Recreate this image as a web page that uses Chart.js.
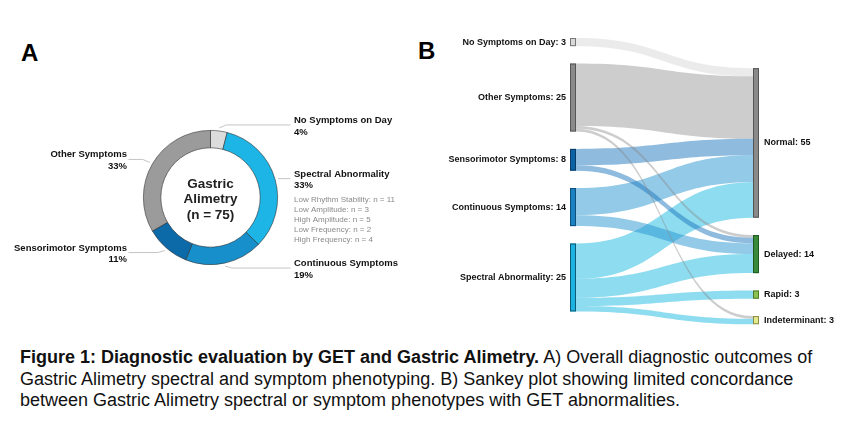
<!DOCTYPE html>
<html>
<head>
<meta charset="utf-8">
<script src="https://cdn.jsdelivr.net/npm/chart.js@4.4.1/dist/chart.umd.min.js"></script>
<style>
  html, body { margin: 0; padding: 0; background: #fff; }
  body { width: 853px; height: 423px; position: relative; overflow: hidden; font-family: "Liberation Sans", Arial, sans-serif; }
  .panel { position: absolute; top: 0; height: 340px; }
  .letter { position: absolute; font-weight: bold; font-size: 24px; color: #000; }
  #caption { position: absolute; left: 20px; top: 347px; width: 833px; font-size: 18px; line-height: 21.5px; color: #111; white-space: nowrap; }
</style>
</head>
<body>
<div class="letter" style="left:21px;top:39px">A</div>
<div class="letter" style="left:418px;top:37px">B</div>
<div class="panel" style="left:0;width:420px"><canvas id="donut"></canvas></div>
<div class="panel" style="left:420px;width:433px"><canvas id="sankey"></canvas></div>
<div id="caption"><b>Figure 1: Diagnostic evaluation by GET and Gastric Alimetry.</b> A) Overall diagnostic outcomes of<br>Gastric Alimetry spectral and symptom phenotyping. B) Sankey plot showing limited concordance<br>between Gastric Alimetry spectral or symptom phenotypes with GET abnormalities.</div>

<script>
// ---- panel A data
const donutLabels = ['No Symptoms on Day', 'Spectral Abnormality', 'Continuous Symptoms', 'Sensorimotor Symptoms', 'Other Symptoms'];
const donutCounts = [3, 25, 14, 8, 25];
const centerLines = ['Gastric', 'Alimetry', '(n = 75)'];
const spectralSubtypes = ['Low Rhythm Stability', 'Low Amplitude', 'High Amplitude', 'Low Frequency', 'High Frequency'];
const spectralSubtypeCounts = [11, 3, 5, 2, 4];

// ---- panel B data
const sourceNodes = ['No Symptoms on Day', 'Other Symptoms', 'Sensorimotor Symptoms', 'Continuous Symptoms', 'Spectral Abnormality'];
const targetNodes = ['Normal', 'Delayed', 'Rapid', 'Indeterminant'];
const flowFrom = [0, 1, 1, 1, 2, 2, 3, 3, 4, 4, 4, 4];
const flowTo   = [0, 0, 1, 3, 0, 1, 0, 1, 0, 1, 2, 3];
const flowValue = [3, 23, 1, 1, 6, 2, 10, 4, 13, 7, 3, 2];

// ---- styles
const DONUT_COLORS = ['#dcdcdc', '#1cb5e5', '#178fcb', '#0c6aa9', '#9b9b9b'];
const SOURCE_COLORS = ['#d9d9d9', '#8a8a8a', '#0b62a4', '#1a82c3', '#1db3e0'];
const SOURCE_BORDERS = ['#777', '#555', '#0a3c66', '#0e4e7a', '#0e5a78'];
const FLOW_COLORS = ['rgba(205,205,205,0.4)', 'rgba(135,135,135,0.42)', 'rgba(30,120,190,0.5)', 'rgba(40,150,210,0.5)', 'rgba(30,185,225,0.5)'];
const TARGET_COLORS = ['#8a8a8a', '#3a8a3c', '#8cc152', '#e3ea8c'];
const TARGET_BORDERS = ['#555', '#1f5a22', '#4d7a2a', '#8a8c45'];
const FONT = '"Liberation Sans", Arial, sans-serif';
const NODE_GAP = 6.4;
const TARGET_START = 11.1;
const NODE_W = 6;

const total = donutCounts.reduce((a, b) => a + b, 0);

const donutLabelPlugin = {
  id: 'donutLabels',
  afterDraw(chart) {
    const ctx = chart.ctx;
    const arcs = chart.getDatasetMeta(0).data;
    ctx.save();
    arcs.forEach((arc, i) => {
      const { x, y, startAngle, endAngle, outerRadius } = arc.getProps(['x', 'y', 'startAngle', 'endAngle', 'outerRadius'], true);
      const mid = (startAngle + endAngle) / 2;
      const px = x + Math.cos(mid) * (outerRadius + 3);
      const py = y + Math.sin(mid) * (outerRadius + 3);
      const right = Math.cos(mid) >= 0;
      const s = Math.sin(mid);
      const ly = py + (s < -0.3 ? -3 : s > 0.3 ? 2 : 0);
      const dir = right ? 1 : -1;
      ctx.strokeStyle = '#c4c4c4';
      ctx.lineWidth = 1;
      ctx.beginPath();
      ctx.moveTo(px, py);
      ctx.lineTo(px + dir * 7, ly);
      ctx.lineTo(x + dir * (right ? 80 : 82), ly);
      ctx.stroke();

      const tx = x + dir * 83.5;
      ctx.textAlign = right ? 'left' : 'right';
      ctx.textBaseline = 'middle';
      ctx.fillStyle = '#111';
      ctx.font = `bold 9.5px ${FONT}`;
      ctx.fillText(donutLabels[i], tx, ly - 4.6);
      ctx.fillText(Math.round(donutCounts[i] / total * 100) + '%', tx, ly + 7);
      if (i === 1) {
        ctx.font = `8px ${FONT}`;
        ctx.fillStyle = '#8a8a8a';
        spectralSubtypes.forEach((name, j) => {
          ctx.fillText(`${name}: n = ${spectralSubtypeCounts[j]}`, tx, ly + 21 + j * 10);
        });
      }
    });
    // centre text
    const c = arcs[0];
    ctx.textAlign = 'center';
    ctx.textBaseline = 'middle';
    ctx.fillStyle = '#222';
    ctx.font = `bold 13.5px ${FONT}`;
    centerLines.forEach((t, j) => ctx.fillText(t, c.x, c.y - 13.5 + j * 15.5));
    ctx.restore();
  }
};

new Chart(document.getElementById('donut'), {
  type: 'doughnut',
  data: {
    labels: donutLabels,
    datasets: [{
      data: donutCounts,
      backgroundColor: DONUT_COLORS,
      borderColor: 'rgba(50,50,50,0.75)',
      borderWidth: 0.8
    }]
  },
  options: {
    responsive: true,
    maintainAspectRatio: false,
    animation: false,
    cutout: '74%',
    layout: { padding: { left: 143, right: 142, top: 130, bottom: 75 } },
    plugins: { legend: { display: false }, tooltip: { enabled: false } }
  },
  plugins: [donutLabelPlugin]
});

function stackNodes(values, start) {
  let pos = start;
  return values.map((v) => { const y0 = pos; pos += v + NODE_GAP; return y0; });
}

const sourceTotals = sourceNodes.map((_, i) => flowValue.reduce((s, v, k) => s + (flowFrom[k] === i ? v : 0), 0));
const targetTotals = targetNodes.map((_, i) => flowValue.reduce((s, v, k) => s + (flowTo[k] === i ? v : 0), 0));

const sankeyPlugin = {
  id: 'sankeyFlows',
  afterDatasetsDraw(chart) {
    const { ctx, scales: { x, y } } = chart;
    const sY = stackNodes(sourceTotals, 0);
    const tY = stackNodes(targetTotals, TARGET_START);
    const sOff = sY.slice();
    const tOff = tY.slice();
    const links = flowValue.map((v, k) => {
      const a = sOff[flowFrom[k]]; sOff[flowFrom[k]] += v;
      return { k, v, s0: a };
    });
    links.forEach((l) => { l.t0 = tOff[flowTo[l.k]]; tOff[flowTo[l.k]] += l.v; });

    const xs = x.getPixelForValue(0) + NODE_W;
    const xt = x.getPixelForValue(1);
    const xm = (xs + xt) / 2;
    ctx.save();
    links.slice().sort((a, b) => b.v - a.v).forEach((l) => {
      const a0 = y.getPixelForValue(l.s0), a1 = y.getPixelForValue(l.s0 + l.v);
      const b0 = y.getPixelForValue(l.t0), b1 = y.getPixelForValue(l.t0 + l.v);
      ctx.fillStyle = FLOW_COLORS[flowFrom[l.k]];
      ctx.beginPath();
      ctx.moveTo(xs, a0);
      ctx.bezierCurveTo(xm, a0, xm, b0, xt, b0);
      ctx.lineTo(xt, b1);
      ctx.bezierCurveTo(xm, b1, xm, a1, xs, a1);
      ctx.closePath();
      ctx.fill();
    });

    const drawNode = (px, v0, v1, fill, stroke) => {
      const top = y.getPixelForValue(v0), bot = y.getPixelForValue(v1);
      ctx.fillStyle = fill;
      ctx.fillRect(px, top, NODE_W, bot - top);
      ctx.strokeStyle = stroke;
      ctx.lineWidth = 1;
      ctx.strokeRect(px + 0.5, top + 0.5, NODE_W - 1, bot - top - 1);
      return (top + bot) / 2;
    };
    ctx.font = `bold 9px ${FONT}`;
    ctx.textBaseline = 'middle';
    sourceNodes.forEach((name, i) => {
      const cy = drawNode(x.getPixelForValue(0), sY[i], sY[i] + sourceTotals[i], SOURCE_COLORS[i], SOURCE_BORDERS[i]);
      ctx.fillStyle = '#111';
      ctx.textAlign = 'right';
      ctx.fillText(`${name}: ${sourceTotals[i]}`, x.getPixelForValue(0) - 4, cy);
    });
    targetNodes.forEach((name, i) => {
      const cy = drawNode(xt, tY[i], tY[i] + targetTotals[i], TARGET_COLORS[i], TARGET_BORDERS[i]);
      ctx.fillStyle = '#111';
      ctx.textAlign = 'left';
      ctx.fillText(`${name}: ${targetTotals[i]}`, xt + NODE_W + 5, cy);
    });
    ctx.restore();
  }
};

new Chart(document.getElementById('sankey'), {
  type: 'scatter',
  data: { datasets: [{ data: [], pointRadius: 0 }] },
  options: {
    responsive: true,
    maintainAspectRatio: false,
    animation: false,
    layout: { padding: { left: 150, right: 100, top: 38, bottom: 3 } },
    scales: {
      x: { type: 'linear', min: 0, max: 1, display: false },
      y: { type: 'linear', min: 0, max: 110, reverse: true, display: false }
    },
    plugins: { legend: { display: false }, tooltip: { enabled: false } }
  },
  plugins: [sankeyPlugin]
});
</script>
</body>
</html>
